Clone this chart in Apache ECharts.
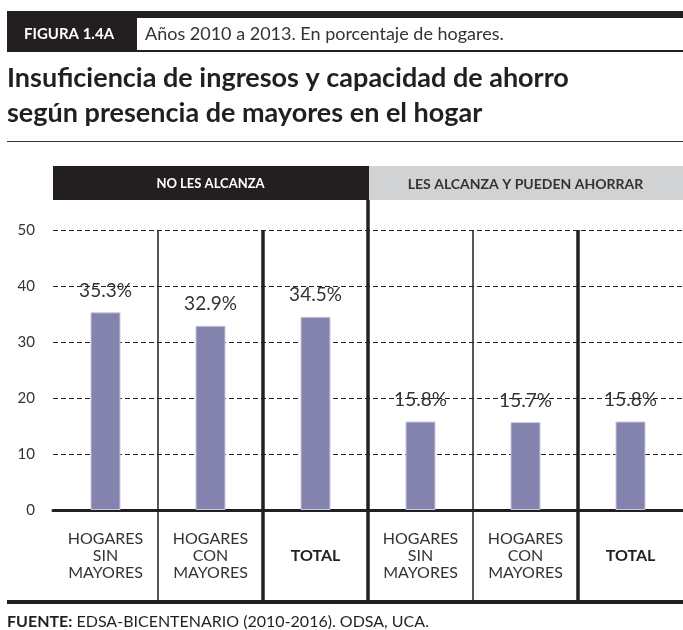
<!DOCTYPE html>
<html>
<head>
<meta charset="utf-8">
<script src="https://cdn.jsdelivr.net/npm/echarts@6/dist/echarts.min.js"></script>
<style>
  html, body { margin: 0; padding: 0; background: #fff; }
  #main { width: 683px; height: 630px; }
</style>
</head>
<body>
<div id="main"></div>
<script>
// datos
var categories = ['HOGARES\nSIN\nMAYORES', 'HOGARES\nCON\nMAYORES', 'TOTAL', 'HOGARES\nSIN\nMAYORES', 'HOGARES\nCON\nMAYORES', 'TOTAL'];
var values = [35.3, 32.9, 34.5, 15.8, 15.7, 15.8];
var groups = ['NO LES ALCANZA', 'LES ALCANZA Y PUEDEN AHORRAR'];
var yMin = 0, yMax = 50, yStep = 10;

var FONT = 'Lato, "Open Sans", sans-serif';
var myChart = echarts.init(document.getElementById('main'));

// cabecera, titulo, bandas y pie
var staticGraphic = [
    { type: 'rect', shape: { x: 7, y: 11, width: 676, height: 41 }, style: { fill: '#231f20' } },
    { type: 'rect', shape: { x: 137, y: 18, width: 546, height: 32 }, style: { fill: '#fff' } },
    { type: 'text', x: 24, y: 34, style: { text: 'FIGURA 1.4A', fill: '#fff', font: 'bold 15px ' + FONT, verticalAlign: 'middle' } },
    { type: 'text', x: 145, y: 34, style: { text: 'Años 2010 a 2013. En porcentaje de hogares.', fill: '#333', font: '18px ' + FONT, verticalAlign: 'middle' } },
    { type: 'text', x: 7, y: 78, style: { text: 'Insuficiencia de ingresos y capacidad de ahorro', fill: '#231f20', font: 'bold 27px ' + FONT, verticalAlign: 'middle' } },
    { type: 'text', x: 7, y: 113, style: { text: 'según presencia de mayores en el hogar', fill: '#231f20', font: 'bold 27px ' + FONT, verticalAlign: 'middle' } },
    { type: 'line', shape: { x1: 7, y1: 141.5, x2: 683, y2: 141.5 }, style: { stroke: '#333', lineWidth: 1.2 } },
    { type: 'rect', shape: { x: 53, y: 166, width: 316, height: 34 }, style: { fill: '#231f20' } },
    { type: 'rect', shape: { x: 369, y: 166, width: 314, height: 34 }, style: { fill: '#d1d2d4' } },
    { type: 'line', shape: { x1: 7, y1: 602, x2: 683, y2: 602 }, style: { stroke: '#231f20', lineWidth: 4 } },
    { type: 'text', x: 7, y: 622, style: { text: '{b|FUENTE:} EDSA-BICENTENARIO (2010-2016). ODSA, UCA.', fill: '#231f20', font: '16px ' + FONT, verticalAlign: 'middle',
        rich: { b: { fontWeight: 'bold', fontSize: 16, fontFamily: FONT, fill: '#231f20' } } } }
];

var option = {
    animation: false,
    grid: { left: 53, right: 0, top: 230, bottom: 120 },
    xAxis: {
        type: 'category',
        data: categories,
        axisLine: { lineStyle: { color: '#231f20', width: 3 } },
        axisTick: { show: false },
        axisLabel: {
            margin: 46,
            verticalAlign: 'middle',
            color: '#333',
            fontSize: 16,
            lineHeight: 17,
            fontFamily: FONT,
            interval: 0,
            formatter: function (v) {
                return v === 'TOTAL' ? '{b|TOTAL}' : v;
            },
            rich: { b: { fontWeight: 'bold', fontSize: 16, fontFamily: FONT, color: '#231f20' } }
        }
    },
    yAxis: {
        type: 'value',
        min: yMin, max: yMax, interval: yStep,
        axisLine: { show: false },
        axisTick: { show: false },
        axisLabel: { color: '#333', fontSize: 15, fontFamily: FONT, margin: 18 },
        splitLine: { lineStyle: { color: '#231f20', width: 1, type: [5, 3] } }
    },
    series: [{
        type: 'bar',
        data: values,
        barWidth: 30,
        itemStyle: { color: '#8483ae', borderColor: '#c9c8e0', borderWidth: 1 },
        label: {
            show: true,
            position: 'top',
            distance: 12,
            color: '#333',
            fontSize: 19,
            fontFamily: FONT,
            formatter: function (p) { return p.value.toFixed(1) + '%'; }
        }
    }],
    graphic: staticGraphic
};
myChart.setOption(option);

// separadores verticales y textos de las bandas, a partir de la escala
var c0 = myChart.convertToPixel({ xAxisIndex: 0 }, 0);
var c1 = myChart.convertToPixel({ xAxisIndex: 0 }, 1);
var half = (c1 - c0) / 2;
var yTop = myChart.convertToPixel({ yAxisIndex: 0 }, yMax);
var widths = [1.5, 3.5, 3.5, 1.5, 3.5];
var lines = [];
for (var i = 0; i < categories.length - 1; i++) {
    var x = myChart.convertToPixel({ xAxisIndex: 0 }, i) + half;
    lines.push({
        type: 'line', z: 10,
        shape: { x1: x, y1: i === 2 ? 200 : yTop, x2: x, y2: 602 },
        style: { stroke: '#231f20', lineWidth: widths[i] }
    });
}
var g0 = myChart.convertToPixel({ xAxisIndex: 0 }, 1);
var g1 = myChart.convertToPixel({ xAxisIndex: 0 }, 4);
lines.push({ type: 'text', x: g0, y: 184, style: { text: groups[0], fill: '#fff', font: 'bold 13px ' + FONT, align: 'center', verticalAlign: 'middle' } });
lines.push({ type: 'text', x: g1, y: 184, style: { text: groups[1], fill: '#333', font: 'bold 14px ' + FONT, align: 'center', verticalAlign: 'middle' } });

myChart.setOption({ graphic: staticGraphic.concat(lines) });
</script>
</body>
</html>
